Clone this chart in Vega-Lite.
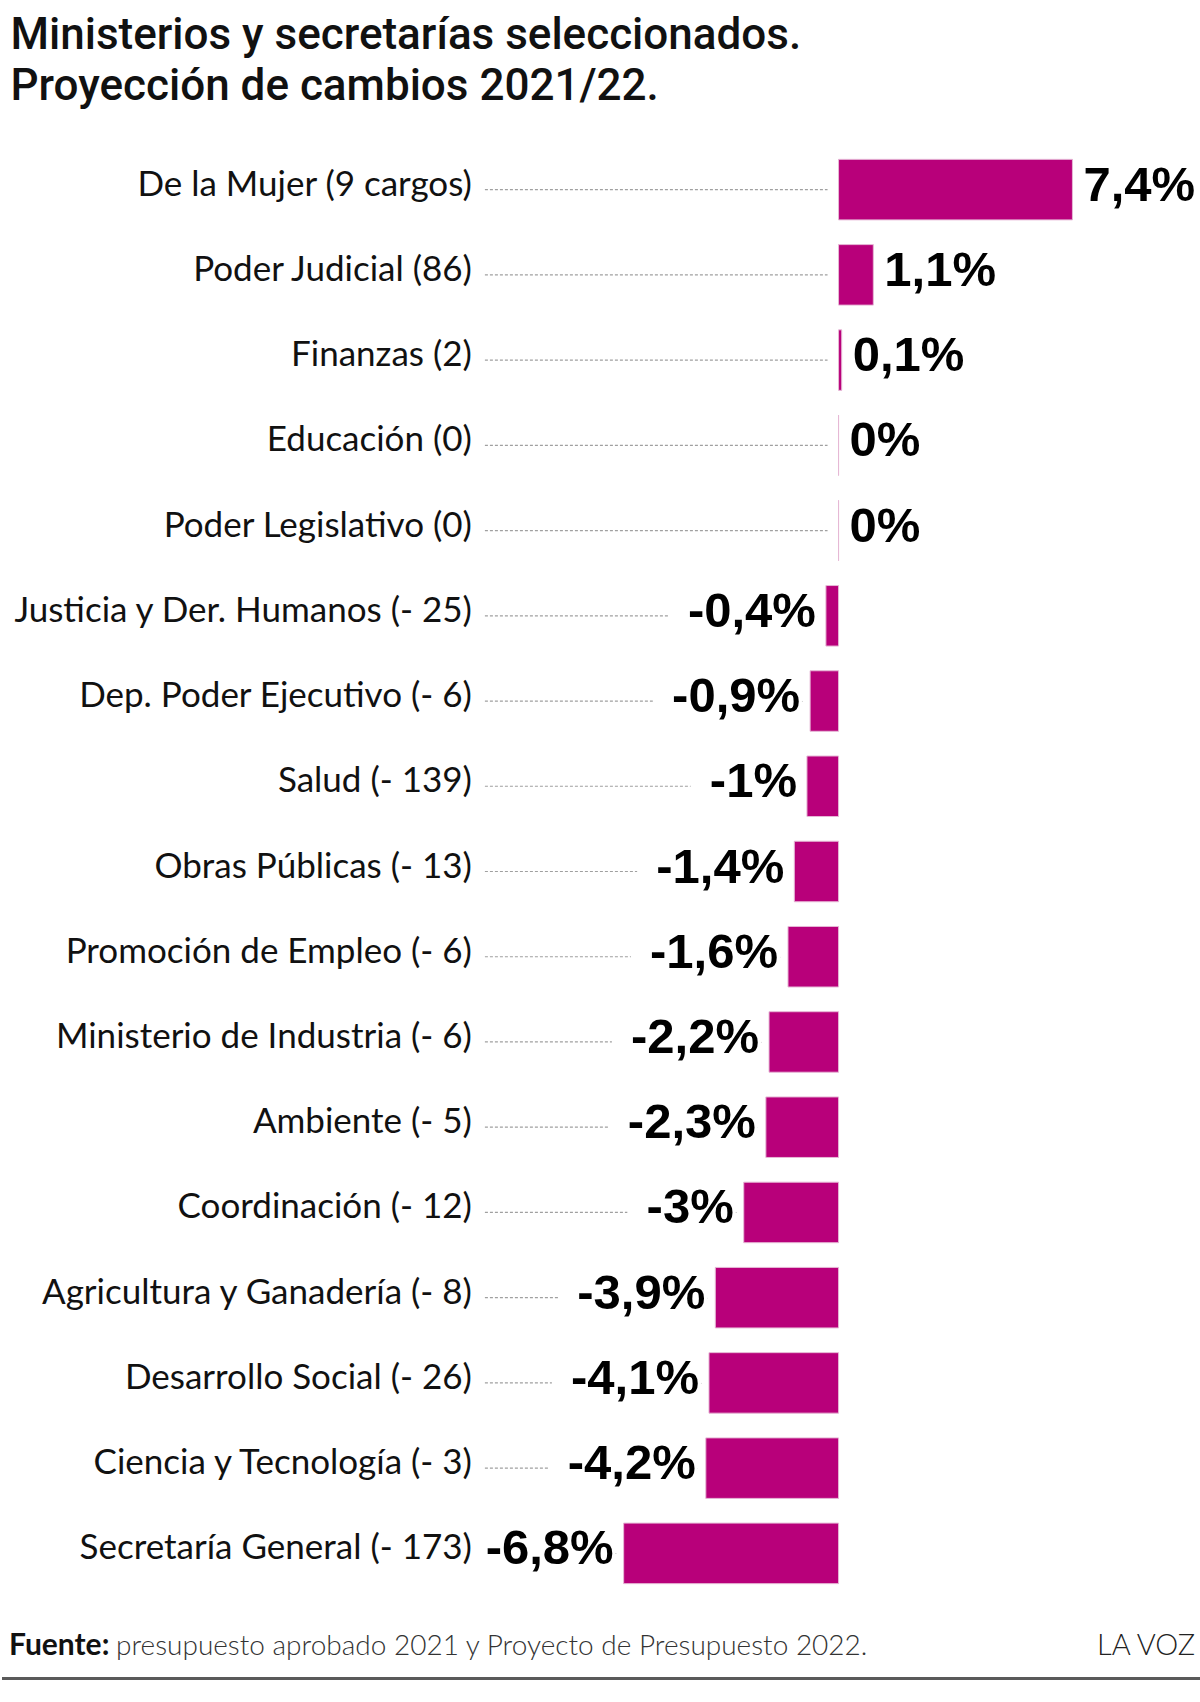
{
  "$schema": "https://vega.github.io/schema/vega-lite/v6.json",
  "padding": {"top": 14, "left": 0, "right": 0, "bottom": 0},
  "bounds": "flush",
  "spacing": 58.6,
  "background": "white",
  "config": {"view": {"stroke": null}},
  "title": {
    "text": ["Ministerios y secretarías seleccionados.", "Proyección de cambios 2021/22."],
    "anchor": "start",
    "font": "Roboto",
    "fontSize": 44,
    "fontWeight": 500,
    "lineHeight": 51,
    "color": "#111111",
    "offset": 38,
    "dx": 10
  },
  "datasets": {
    "cambios": [
      {"area": "De la Mujer (9 cargos)", "v": 7.4},
      {"area": "Poder Judicial (86)", "v": 1.1},
      {"area": "Finanzas (2)", "v": 0.1},
      {"area": "Educación (0)", "v": 0},
      {"area": "Poder Legislativo (0)", "v": 0},
      {"area": "Justicia y Der. Humanos (- 25)", "v": -0.4},
      {"area": "Dep. Poder Ejecutivo (- 6)", "v": -0.9},
      {"area": "Salud (- 139)", "v": -1},
      {"area": "Obras Públicas (- 13)", "v": -1.4},
      {"area": "Promoción de Empleo (- 6)", "v": -1.6},
      {"area": "Ministerio de Industria (- 6)", "v": -2.2},
      {"area": "Ambiente (- 5)", "v": -2.3},
      {"area": "Coordinación (- 12)", "v": -3},
      {"area": "Agricultura y Ganadería (- 8)", "v": -3.9},
      {"area": "Desarrollo Social (- 26)", "v": -4.1},
      {"area": "Ciencia y Tecnología (- 3)", "v": -4.2},
      {"area": "Secretaría General (- 173)", "v": -6.8}
    ]
  },
  "vconcat": [
    {
      "width": 1200,
      "height": 1449,
      "data": {"name": "cambios"},
      "transform": [
        {"calculate": "replace(toString(datum.v), '.', ',') + '%'", "as": "etiqueta"}
      ],
      "encoding": {
        "y": {
          "field": "area",
          "type": "nominal",
          "sort": null,
          "axis": null,
          "scale": {"paddingInner": 0.29, "paddingOuter": 0.145}
        }
      },
      "layer": [
        {
          "mark": {"type": "rule", "strokeDash": [3, 2], "color": "#a0a0a0", "strokeWidth": 1.2, "x2Offset": -11},
          "encoding": {
            "x": {"datum": -11.19, "type": "quantitative", "scale": {"domain": [-26.47, 11.5], "zero": false, "nice": false}, "axis": null},
            "x2": {"datum": 0}
          }
        },
        {
          "transform": [{"filter": "datum.v < 0"}],
          "mark": {"type": "text", "align": "right", "baseline": "middle", "dx": -10, "dy": -4, "font": "Liberation Sans", "fontSize": 49, "fontWeight": "bold", "fill": "white", "stroke": "white", "strokeWidth": 42, "strokeJoin": "round"},
          "encoding": {
            "x": {"field": "v", "type": "quantitative"},
            "text": {"field": "etiqueta"}
          }
        },
        {
          "mark": {"type": "bar", "color": "#b8007a", "stroke": "#e6b8d6", "strokeWidth": 1},
          "encoding": {
            "x": {"field": "v", "type": "quantitative"}
          }
        },
        {
          "mark": {"type": "text", "align": "right", "baseline": "middle", "dy": -5, "font": "Lato", "fontSize": 35, "color": "#111111"},
          "encoding": {
            "x": {"datum": -11.6, "type": "quantitative"},
            "text": {"field": "area"}
          }
        },
        {
          "transform": [{"filter": "datum.v >= 0"}],
          "mark": {"type": "text", "align": "left", "baseline": "middle", "dx": 11, "dy": -4, "font": "Liberation Sans", "fontSize": 49, "fontWeight": "bold", "color": "#000000"},
          "encoding": {
            "x": {"field": "v", "type": "quantitative"},
            "text": {"field": "etiqueta"}
          }
        },
        {
          "transform": [{"filter": "datum.v < 0"}],
          "mark": {"type": "text", "align": "right", "baseline": "middle", "dx": -10, "dy": -4, "font": "Liberation Sans", "fontSize": 49, "fontWeight": "bold", "color": "#000000"},
          "encoding": {
            "x": {"field": "v", "type": "quantitative"},
            "text": {"field": "etiqueta"}
          }
        }
      ]
    },
    {
      "width": 1200,
      "height": 24,
      "data": {"values": [{"lado": "left", "fila": "text"}]},
      "encoding": {
        "y": {"datum": "text", "type": "nominal", "scale": {"type": "point", "domain": ["text", "line"], "padding": 0}, "axis": null}
      },
      "layer": [
        {
          "mark": {"type": "text", "text": "Fuente:", "align": "left", "baseline": "alphabetic", "dx": 7, "font": "Lato", "fontSize": 30, "fontWeight": "bold", "color": "#111111"},
          "encoding": {
            "x": {"datum": "left", "type": "nominal", "scale": {"type": "point", "domain": ["left", "right"], "padding": 0}, "axis": null}
          }
        },
        {
          "mark": {"type": "text", "text": "presupuesto aprobado 2021 y Proyecto de Presupuesto 2022.", "align": "left", "baseline": "alphabetic", "dx": 114, "font": "Lato", "fontSize": 28, "fontWeight": 300, "color": "#333333"},
          "encoding": {
            "x": {"datum": "left", "type": "nominal"}
          }
        },
        {
          "mark": {"type": "text", "text": "LA VOZ", "align": "right", "baseline": "alphabetic", "dx": -7, "font": "Lato", "fontSize": 29, "fontWeight": 300, "color": "#222222"},
          "encoding": {
            "x": {"datum": "right", "type": "nominal"}
          }
        },
        {
          "mark": {"type": "rule", "color": "#5a5a5a", "strokeWidth": 3},
          "encoding": {
            "x": {"datum": "left", "type": "nominal"},
            "x2": {"datum": "right"},
            "y": {"datum": "line", "type": "nominal"}
          }
        }
      ]
    }
  ]
}
